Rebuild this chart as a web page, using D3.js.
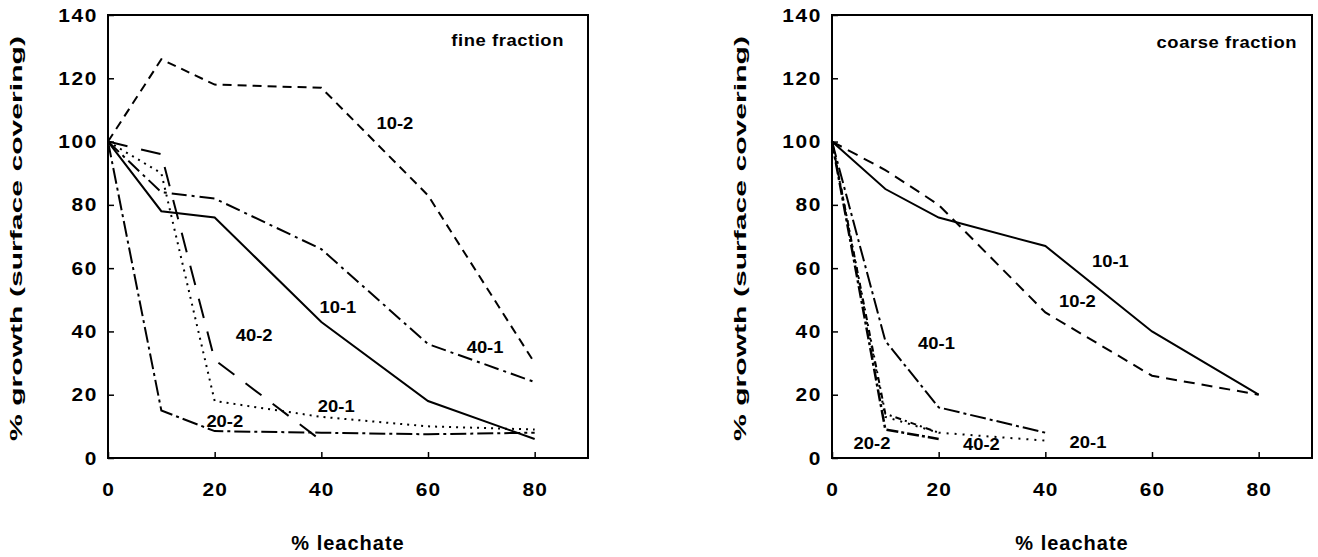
<!DOCTYPE html>
<html>
<head>
<meta charset="utf-8">
<script src="https://cdn.jsdelivr.net/npm/d3@7/dist/d3.min.js"></script>
<style>
body { margin: 0; background: #fff; }
text { font-family: "Liberation Sans", Arial, sans-serif; font-weight: bold; fill: #000; }
</style>
</head>
<body>
<svg id="chart" width="1318" height="557"></svg>
<script>
// % leachate levels
var xLevels = [0, 10, 20, 40, 60, 80];
var xTicks = [0, 20, 40, 60, 80];
var yTicks = [0, 20, 40, 60, 80, 100, 120, 140];

// fine fraction
var fine10_1 = [100, 78, 76, 43, 18, 6];
var fine10_2 = [100, 126, 118, 117, 83, 30];
var fine20_1 = [100, 90, 18, 13, 10, 9];
var fine20_2 = [100, 15, 8.5, 8, 7.5, 8];
var fine40_1 = [100, 84, 82, 66, 36, 24];
var fine40_2 = [100, 96, 31, 5.5];

// coarse fraction
var coarse10_1 = [100, 85, 76, 67, 40, 20];
var coarse10_2 = [100, 91, 80, 46, 26, 20];
var coarse20_1 = [100, 13, 8, 5.5];
var coarse20_2 = [100, 9, 6];
var coarse40_1 = [100, 37, 16, 8];
var coarse40_2 = [100, 14, 8];

// label anchors, in data units
var fineLabels = [
  ["10-2", 53.8, 105.8], ["10-1", 43.1, 47.7], ["40-2", 27.4, 38.8],
  ["40-1", 70.7, 35], ["20-1", 42.8, 16.3], ["20-2", 21.9, 11.7]
];
var coarseLabels = [
  ["10-1", 52.2, 62.3], ["10-2", 46, 49.7], ["40-1", 19.6, 36.3],
  ["20-2", 7.5, 4.6], ["40-2", 28, 4.4], ["20-1", 48, 5]
];

var fineSeries = [
  {name: "10-2", y: fine10_2, dash: "9,6", w: 2},
  {name: "40-1", y: fine40_1, dash: "15,5,3,5", w: 2},
  {name: "10-1", y: fine10_1, dash: null, w: 2},
  {name: "40-2", y: fine40_2, dash: "20,14", w: 2},
  {name: "20-1", y: fine20_1, dash: "2,5", w: 2},
  {name: "20-2", y: fine20_2, dash: "16,4,3,4", w: 2}
];
var coarseSeries = [
  {name: "10-1", y: coarse10_1, dash: null, w: 2},
  {name: "10-2", y: coarse10_2, dash: "11,7", w: 2},
  {name: "40-1", y: coarse40_1, dash: "16,4,3,4", w: 2},
  {name: "20-1", y: coarse20_1, dash: "2,6", w: 2},
  {name: "40-2", y: coarse40_2, dash: "6,4,2,4", w: 2},
  {name: "20-2", y: coarse20_2, dash: "12,3,3,3", w: 2.5}
];

var svg = d3.select("#chart");
var width = 480, height = 443, marginTop = 15;

function panel(left, series, labels, title) {
  var x = d3.scaleLinear().domain([0, 90]).range([0, width]);
  var y = d3.scaleLinear().domain([0, 140]).range([height, 0]);
  var g = svg.append("g").attr("transform", "translate(" + left + "," + marginTop + ")");

  var xa = g.append("g").attr("transform", "translate(0," + height + ")")
    .call(d3.axisBottom(x).tickValues(xTicks).tickSize(-6).tickPadding(25));
  xa.select(".domain").remove();
  xa.selectAll("line").attr("stroke-width", 1.5);
  xa.selectAll("text").attr("font-size", 19).attr("letter-spacing", 1)
    .attr("transform", "scale(1.1,1)");

  var ya = g.append("g")
    .call(d3.axisLeft(y).tickValues(yTicks).tickSize(-6).tickPadding(9));
  ya.select(".domain").remove();
  ya.selectAll("line").attr("stroke-width", 1.5);
  ya.selectAll("text").attr("font-size", 19).attr("letter-spacing", 1.5)
    .attr("transform", "scale(1.1,1)");

  g.append("rect").attr("width", width).attr("height", height)
    .attr("fill", "none").attr("stroke", "#000").attr("stroke-width", 2);

  var line = d3.line()
    .x(function(d, i) { return x(xLevels[i]); })
    .y(function(d) { return y(d); });

  g.selectAll(".series").data(series).join("path")
    .attr("class", "series")
    .attr("d", function(d) { return line(d.y); })
    .attr("fill", "none")
    .attr("stroke", "#000")
    .attr("stroke-width", function(d) { return d.w; })
    .attr("stroke-dasharray", function(d) { return d.dash; });

  labels.forEach(function(l) {
    g.append("g").attr("transform", "translate(" + x(l[1]) + "," + y(l[2]) + ") scale(1.15,1)")
      .append("text").attr("text-anchor", "middle").attr("dy", "0.36em")
      .attr("font-size", 16).text(l[0]);
  });

  g.append("g").attr("transform", "translate(" + x(title[1]) + "," + y(title[2]) + ") scale(1.15,1)")
    .append("text").attr("text-anchor", "end").attr("dy", "0.36em")
    .attr("font-size", 16).attr("letter-spacing", 0.5).text(title[0]);

  g.append("text").attr("text-anchor", "middle")
    .attr("transform", "translate(" + (width / 2) + "," + (height + 92) + ")")
    .attr("font-size", 20).attr("letter-spacing", 1).text("% leachate");

  g.append("text").attr("text-anchor", "middle")
    .attr("transform", "translate(-86," + (height / 2 + 2) + ") rotate(-90)")
    .attr("font-size", 17)
    .attr("textLength", 405).attr("lengthAdjust", "spacingAndGlyphs")
    .text("% growth (surface covering)");
}

panel(108, fineSeries, fineLabels, ["fine fraction", 85.5, 132]);
panel(832, coarseSeries, coarseLabels, ["coarse fraction", 87.2, 131.4]);
</script>
</body>
</html>
